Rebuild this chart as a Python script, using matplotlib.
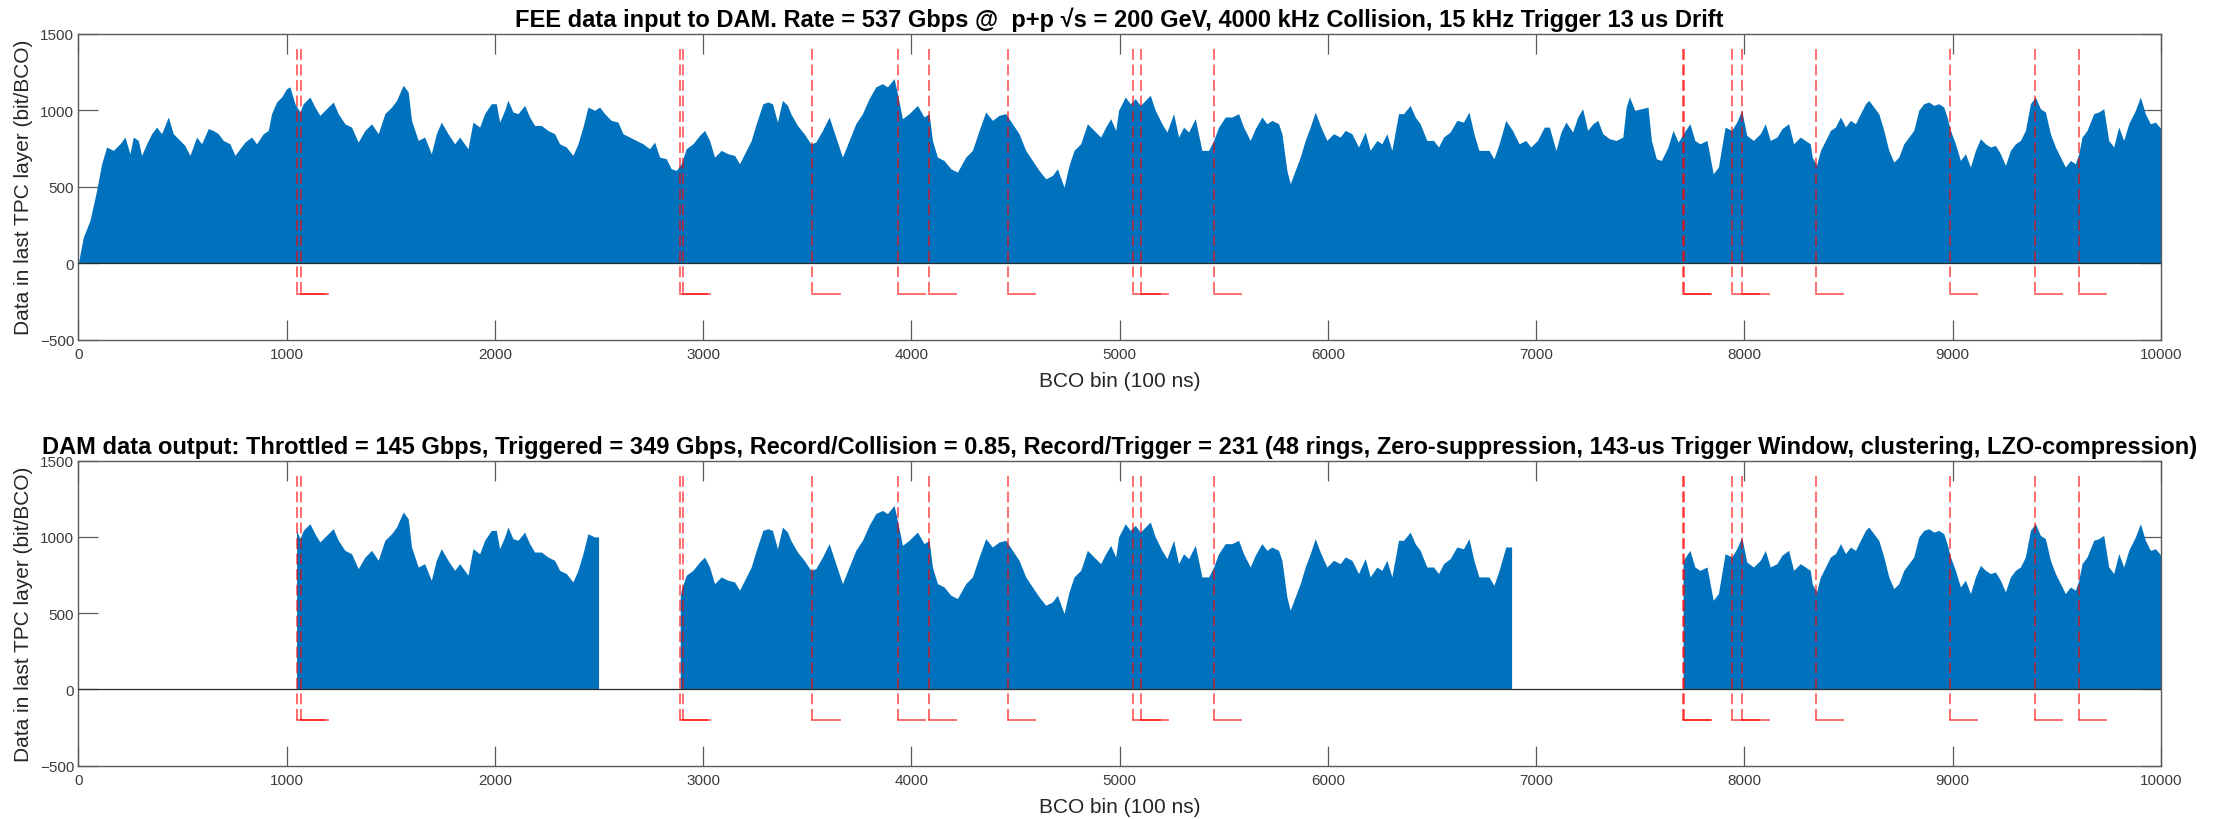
import numpy as np
import matplotlib
matplotlib.use("Agg")
import matplotlib.pyplot as plt

plt.rcParams["font.family"] = ["Liberation Sans", "DejaVu Sans"]

# Simulated FEE stream: data volume in the last TPC layer per BCO bin
bco_bin = [
    0, 24, 56, 88, 112, 136, 168, 200, 224, 248, 264, 288, 304, 328, 352, 376, 400, 432, 456, 488,
    512, 536, 568, 592, 624, 648, 672, 696, 728, 752, 776, 800, 832, 856, 888, 912, 928, 952, 976, 1000,
    1016, 1040, 1064, 1080, 1112, 1136, 1160, 1184, 1224, 1248, 1280, 1312, 1344, 1376, 1408, 1440, 1472, 1504, 1528, 1560,
    1584, 1600, 1632, 1663, 1695, 1719, 1743, 1775, 1807, 1831, 1871, 1895, 1927, 1951, 1983, 2007, 2023, 2047, 2063, 2087,
    2111, 2143, 2167, 2191, 2223, 2255, 2287, 2311, 2343, 2375, 2399, 2423, 2447, 2479, 2503, 2527, 2559, 2591, 2615, 2647,
    2679, 2711, 2743, 2767, 2791, 2823, 2847, 2871, 2895, 2919, 2951, 2983, 3007, 3031, 3055, 3087, 3119, 3151, 3175, 3199,
    3231, 3255, 3287, 3311, 3333, 3357, 3381, 3405, 3421, 3453, 3485, 3517, 3541, 3573, 3605, 3637, 3669, 3701, 3733, 3765,
    3797, 3829, 3861, 3885, 3917, 3933, 3957, 3989, 4029, 4061, 4085, 4101, 4125, 4157, 4189, 4221, 4261, 4293, 4325, 4357,
    4389, 4421, 4453, 4485, 4517, 4549, 4581, 4613, 4645, 4677, 4701, 4733, 4757, 4781, 4813, 4845, 4877, 4909, 4933, 4957,
    4981, 4995, 5027, 5051, 5075, 5099, 5123, 5147, 5171, 5203, 5227, 5259, 5283, 5307, 5331, 5363, 5395, 5427, 5451, 5475,
    5507, 5539, 5571, 5595, 5627, 5651, 5683, 5707, 5731, 5763, 5779, 5803, 5819, 5843, 5867, 5891, 5915, 5939, 5963, 5995,
    6027, 6059, 6083, 6115, 6147, 6179, 6203, 6235, 6259, 6283, 6307, 6339, 6363, 6395, 6419, 6443, 6475, 6507, 6531, 6555,
    6587, 6619, 6651, 6677, 6701, 6725, 6749, 6773, 6797, 6822, 6854, 6886, 6918, 6950, 6974, 7006, 7039, 7063, 7095, 7119,
    7143, 7175, 7199, 7223, 7247, 7272, 7296, 7320, 7352, 7384, 7416, 7432, 7448, 7473, 7505, 7537, 7553, 7577, 7601, 7633,
    7657, 7682, 7706, 7738, 7762, 7786, 7820, 7850, 7875, 7907, 7939, 7963, 7987, 8011, 8043, 8076, 8100, 8124, 8156, 8180,
    8212, 8236, 8268, 8292, 8316, 8325, 8346, 8365, 8389, 8413, 8437, 8461, 8485, 8509, 8533, 8557, 8581, 8597, 8621, 8645,
    8669, 8693, 8717, 8741, 8765, 8789, 8813, 8837, 8861, 8885, 8909, 8933, 8957, 8973, 8989, 9013, 9037, 9061, 9085, 9109,
    9133, 9157, 9181, 9205, 9229, 9253, 9277, 9301, 9325, 9349, 9373, 9397, 9421, 9445, 9469, 9493, 9517, 9541, 9565, 9589,
    9605, 9621, 9645, 9677, 9701, 9725, 9749, 9773, 9797, 9821, 9845, 9877, 9901, 9925, 9949, 9973, 10000,
]
bits_per_bco = [
    0, 170, 280, 476, 650, 760, 738, 781, 825, 716, 825, 803, 705, 781, 847, 890, 847, 956, 847, 803,
    770, 705, 825, 781, 880, 868, 847, 803, 781, 705, 749, 792, 825, 781, 847, 868, 978, 1054, 1087, 1141,
    1153, 1043, 989, 1043, 1087, 1021, 967, 1000, 1054, 978, 912, 890, 792, 868, 912, 847, 978, 1021, 1065, 1164,
    1120, 934, 803, 825, 716, 847, 923, 847, 781, 825, 749, 923, 890, 978, 1043, 1043, 923, 1000, 1065, 989,
    978, 1032, 956, 901, 901, 868, 847, 781, 760, 705, 781, 890, 1021, 1000, 1021, 978, 934, 923, 847, 825,
    803, 781, 749, 792, 694, 683, 618, 607, 651, 749, 781, 836, 868, 803, 694, 738, 716, 705, 651, 716,
    803, 912, 1043, 1054, 1043, 923, 1065, 1032, 978, 901, 847, 781, 792, 868, 956, 825, 694, 803, 912, 978,
    1076, 1153, 1174, 1153, 1207, 1109, 945, 978, 1032, 956, 978, 803, 694, 672, 618, 596, 694, 738, 868, 989,
    934, 967, 978, 912, 847, 738, 672, 607, 552, 574, 618, 498, 640, 738, 781, 912, 868, 825, 890, 945,
    868, 1000, 1087, 1043, 1076, 1032, 1065, 1098, 1000, 912, 858, 978, 825, 890, 858, 945, 738, 738, 803, 890,
    956, 956, 978, 890, 803, 880, 956, 912, 934, 912, 847, 607, 520, 607, 694, 803, 890, 989, 901, 803,
    847, 825, 869, 847, 760, 858, 738, 803, 781, 847, 738, 978, 978, 1032, 956, 912, 803, 803, 760, 825,
    858, 934, 923, 989, 847, 738, 738, 738, 683, 781, 934, 869, 781, 803, 760, 803, 890, 890, 738, 858,
    923, 858, 956, 1010, 869, 912, 934, 847, 814, 803, 825, 1021, 1087, 1000, 1010, 1021, 803, 683, 672, 760,
    869, 792, 847, 912, 803, 781, 803, 585, 629, 890, 869, 923, 1000, 836, 803, 847, 912, 803, 825, 880,
    912, 781, 825, 803, 781, 694, 640, 738, 803, 869, 891, 956, 891, 934, 912, 978, 1043, 1065, 1021, 978,
    869, 738, 661, 694, 781, 825, 869, 1000, 1043, 1054, 1032, 1043, 1021, 956, 869, 781, 672, 716, 629, 738,
    814, 781, 760, 770, 716, 640, 738, 781, 803, 869, 1043, 1087, 1010, 989, 847, 760, 694, 629, 672, 651,
    716, 825, 869, 978, 989, 1010, 803, 760, 891, 803, 912, 1000, 1087, 978, 912, 923, 880,
]

# Trigger arrivals (BCO bin), drift time and DAM trigger window (in BCO bins)
trigger_bco = [1048, 1068, 2890, 2902, 3525, 3934, 4083, 4463, 5065, 5102, 5452,
               7705, 7711, 7940, 7990, 8344, 8985, 9393, 9606]
drift_bins = 130          # 13 us drift
window_bins = 1430        # 143 us trigger window
trigger_top = 1400
trigger_level = -200

x_ticks = list(range(0, 10001, 1000))
y_ticks = [-500, 0, 500, 1000, 1500]

title_fee = ("FEE data input to DAM. Rate = 537 Gbps @  p+p \u221As = 200 GeV, "
             "4000 kHz Collision, 15 kHz Trigger 13 us Drift")
title_dam = ("DAM data output: Throttled = 145 Gbps, Triggered = 349 Gbps, "
             "Record/Collision = 0.85, Record/Trigger = 231 (48 rings, Zero-suppression, "
             "143-us Trigger Window, clustering, LZO-compression)")
x_label = "BCO bin (100 ns)"
y_label = "Data in last TPC layer (bit/BCO)"

AREA = "#0072BD"
AXIS = "#5a5a5a"

x = np.asarray(bco_bin, dtype=float)
y = np.asarray(bits_per_bco, dtype=float)
x_max = x_ticks[-1]

# merge overlapping trigger windows into recorded intervals
intervals = []
for t in sorted(trigger_bco):
    lo, hi = t, min(t + window_bins, x_max)
    if intervals and lo <= intervals[-1][1]:
        intervals[-1][1] = max(intervals[-1][1], hi)
    else:
        intervals.append([lo, hi])


def recorded_segment(lo, hi):
    """Samples inside [lo, hi], held flat out to the interval edges."""
    inside = (x >= lo) & (x <= hi)
    xs, ys = x[inside], y[inside]
    before = np.nonzero(x <= lo)[0]
    y_lo = y[before[-1]] if len(before) else ys[0]
    xs = np.concatenate(([lo], xs, [hi]))
    ys = np.concatenate(([y_lo], ys, [ys[-1]]))
    return xs, ys


def style_axes(ax, title):
    ax.set_xlim(x_ticks[0], x_ticks[-1])
    ax.set_ylim(y_ticks[0], y_ticks[-1])
    ax.set_xticks(x_ticks)
    ax.set_yticks(y_ticks)
    ax.tick_params(axis="both", direction="in", length=14.5, width=0.9,
                   color=AXIS, top=True, right=True, labelsize=11,
                   labelcolor="#3c3c3c")
    ax.tick_params(axis="x", pad=5)
    ax.tick_params(axis="y", pad=3)
    for sp in ax.spines.values():
        sp.set_color(AXIS)
        sp.set_linewidth(1.0)
    ax.set_title(title, fontsize=17, fontweight="bold", pad=5.5, color="black")
    ax.set_xlabel(x_label, fontsize=15, color="#262626", va="center")
    ax.set_ylabel(y_label, fontsize=15, color="#262626", va="center")
    ax.xaxis.set_label_coords(0.5, -0.134)
    ax.yaxis.set_label_coords(-0.0265, 0.5)


def draw_triggers(ax):
    for t in trigger_bco:
        ax.plot([t, t], [trigger_top, trigger_level], color="red", alpha=0.62,
                lw=1.3, linestyle=(0, (6.0, 2.6)), zorder=4)
        ax.plot([t, t + drift_bins], [trigger_level, trigger_level], color="red",
                alpha=0.62, lw=1.3, zorder=4)


fig = plt.figure(figsize=(22.34, 8.2), dpi=100)
ax_top = fig.add_axes([0.03505, 0.5844, 0.93227, 0.37317])
ax_bot = fig.add_axes([0.03505, 0.0650, 0.93227, 0.37195])

# FEE input: full stream
ax_top.fill_between(x, 0, y, color=AREA, lw=0, zorder=2)
ax_top.axhline(0, color="#2b2b2b", lw=0.9, zorder=3)
draw_triggers(ax_top)
style_axes(ax_top, title_fee)

# DAM output: only the triggered windows are recorded
for lo, hi in intervals:
    xs, ys = recorded_segment(lo, hi)
    ax_bot.fill_between(xs, 0, ys, color=AREA, lw=0, zorder=2)
ax_bot.axhline(0, color="#2b2b2b", lw=0.9, zorder=3)
draw_triggers(ax_bot)
style_axes(ax_bot, title_dam)

fig.savefig("out.png", dpi=100)
